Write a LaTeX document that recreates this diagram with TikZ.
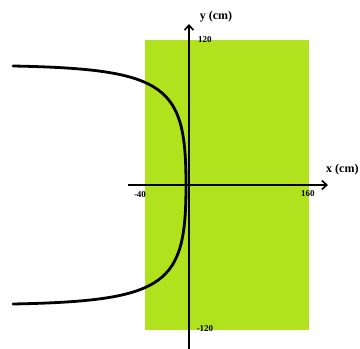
\documentclass[tikz,border=0pt]{standalone}
\usepackage{fontspec}
\setmainfont{Liberation Serif}
\usetikzlibrary{arrows.meta}
\definecolor{fieldgreen}{RGB}{176,226,30}
\tikzset{
  axis/.style={line width=1.6pt,-{Straight Barb[length=5pt,width=9pt,line width=1.6pt]}},
  curveline/.style={line width=2.8pt,line cap=round},
  axtitle/.style={font=\fontsize{12}{13}\selectfont\bfseries,inner sep=0pt},
  ticklab/.style={font=\fontsize{9}{10}\selectfont\bfseries,inner sep=0pt}
}
\begin{document}
\begin{tikzpicture}[x=1pt,y=1pt]
\useasboundingbox (0,0) rectangle (360,349);
\fill[fieldgreen] (145,19) rectangle (309,309);
\coordinate (ybot) at (189,0);
\coordinate (ytop) at (189,325);
\coordinate (xleft) at (128,164);
\coordinate (xright) at (328,164);
\draw[axis] (ybot) -- (ytop);
\draw[axis] (xleft) -- (xright);
\draw[curveline] (13,283) .. controls (168,280) and (186,263) .. (186,164)
  .. controls (186,65) and (168,48) .. (13,45);
\node[axtitle] (ylab) at (216,332) {y (cm)};
\node[axtitle,anchor=west] (xlab) at (326,179) {x (cm)};
\node[ticklab] (t120) at (205,309) {120};
\node[ticklab] (tm120) at (205,20) {-120};
\node[ticklab] (tm40) at (140,154) {-40};
\node[ticklab] (t160) at (308,155) {160};
\end{tikzpicture}
\end{document}
